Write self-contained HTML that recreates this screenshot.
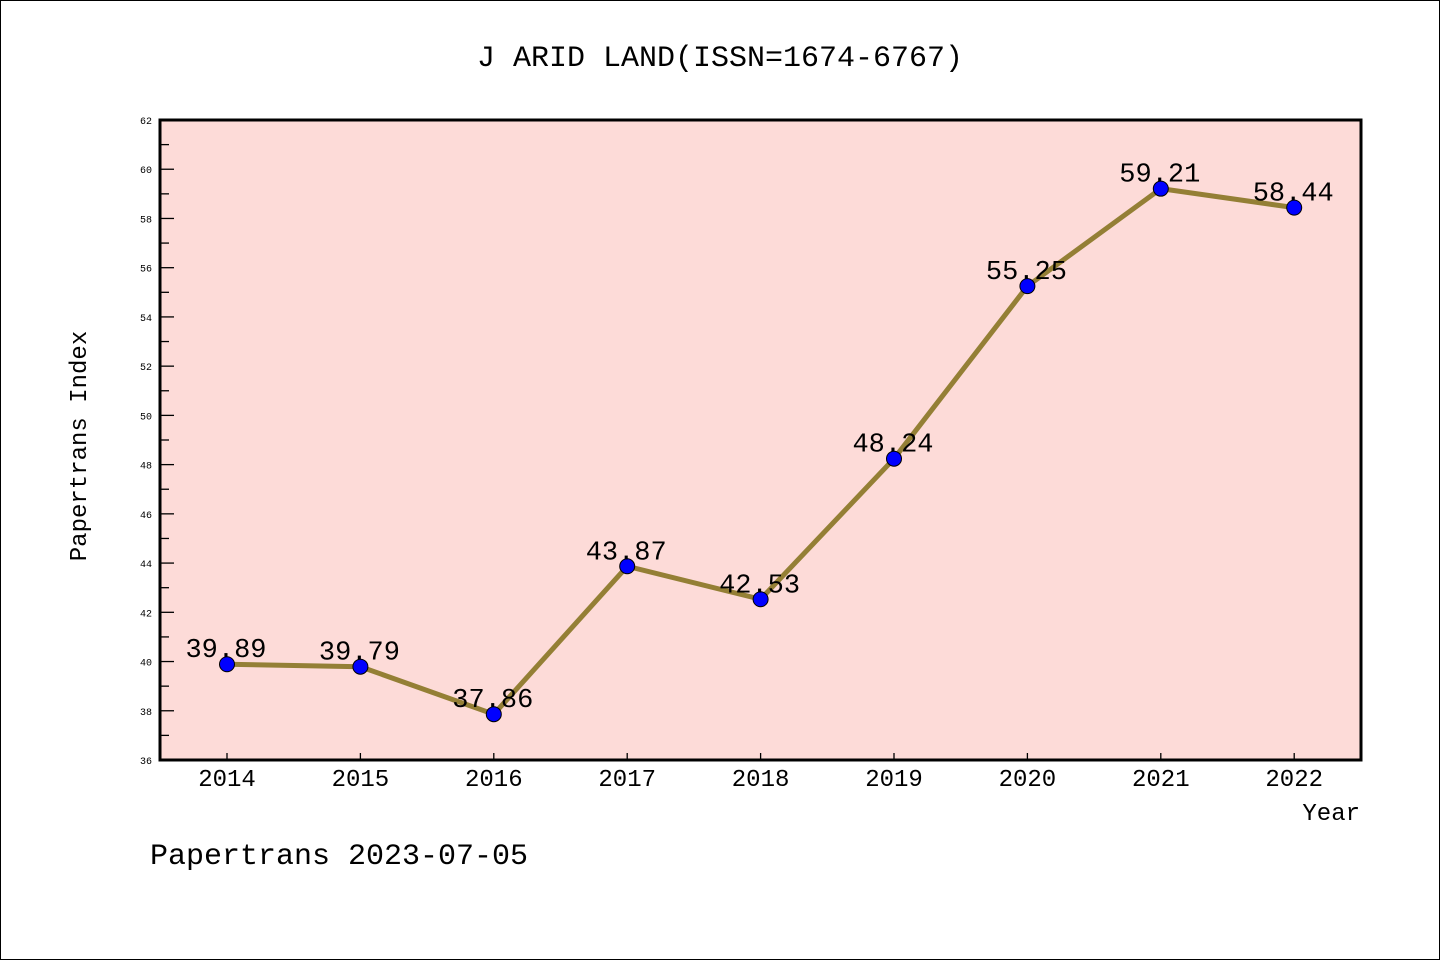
<!DOCTYPE html>
<html><head><meta charset="utf-8"><style>
body{margin:0;background:#fff}
svg{display:block}
text{font-family:"Liberation Mono","WenQuanYi Zen Hei",monospace;fill:#000}
</style></head><body>
<svg width="1440" height="960">
<rect x="0.5" y="0.5" width="1439" height="959" fill="#fff" stroke="#000"/>
<text x="720" y="66" font-size="30" text-anchor="middle">J ARID LAND(ISSN=1674-6767)</text>
<rect x="160" y="120" width="1201" height="640" fill="#fddbd8"/>
<g id="ticks"></g>
<polyline id="line" fill="none" stroke="#947f35" stroke-width="5"/>
<g id="pts"></g>
<rect x="160" y="120" width="1201" height="640" fill="none" stroke="#000" stroke-width="3"/>
<text x="86" y="446" font-size="24" text-anchor="middle" transform="rotate(-90 86 446)">Papertrans Index</text>
<text x="1360" y="820" font-size="24" text-anchor="end">Year</text>
<text x="150" y="864" font-size="30">Papertrans 2023-07-05</text>
</svg>
<script>
const years=["2014","2015","2016","2017","2018","2019","2020","2021","2022"];
const values=[39.89,39.79,37.86,43.87,42.53,48.24,55.25,59.21,58.44];
const labels=["39.89","39.79","37.86","43.87","42.53","48.24","55.25","59.21","58.44"];
const yTicks=[36,38,40,42,44,46,48,50,52,54,56,58,60,62];
const NS="http://www.w3.org/2000/svg";
const yMin=36,yMax=62,plotTop=120,plotBot=760;
const y=v=>plotBot-(v-yMin)/(yMax-yMin)*(plotBot-plotTop);
const x=i=>227+i*133.4;
function mk(t,a,p){const e=document.createElementNS(NS,t);for(const k in a)e.setAttribute(k,a[k]);p.appendChild(e);return e;}
const tg=document.getElementById('ticks');
for(let v=yMin;v<=yMax;v++){
  const major=v%2===0;
  const l=mk('line',{x1:160,x2:major?174:169,y1:y(v),y2:y(v),stroke:'#000','stroke-width':1.3},tg);
  
  
}
yTicks.forEach(v=>{
  const t=mk('text',{x:152,y:y(v)+4,'font-size':10,'text-anchor':'end'},tg);
  t.textContent=v;
  
  
});
years.forEach((yr,i)=>{
  const l=mk('line',{x1:x(i),x2:x(i),y1:760,y2:753,stroke:'#000','stroke-width':1.3},tg);
  
  
  const t=mk('text',{x:x(i),y:786,'font-size':24,'text-anchor':'middle'},tg);
  t.textContent=yr;
  
  
});
document.getElementById('line').setAttribute('points',values.map((v,i)=>x(i)+','+y(v)).join(' '));
const pg=document.getElementById('pts');
values.forEach((v,i)=>{
  const c=mk('circle',{cx:x(i),cy:y(v),r:7.5,fill:'#0000ff',stroke:'#000','stroke-width':1},pg);
  
  
  const t=mk('text',{x:x(i)-1,y:y(v)-7,'font-size':27,'text-anchor':'middle'},pg);
  t.textContent=labels[i];
  
  
});
</script>
</body></html>
